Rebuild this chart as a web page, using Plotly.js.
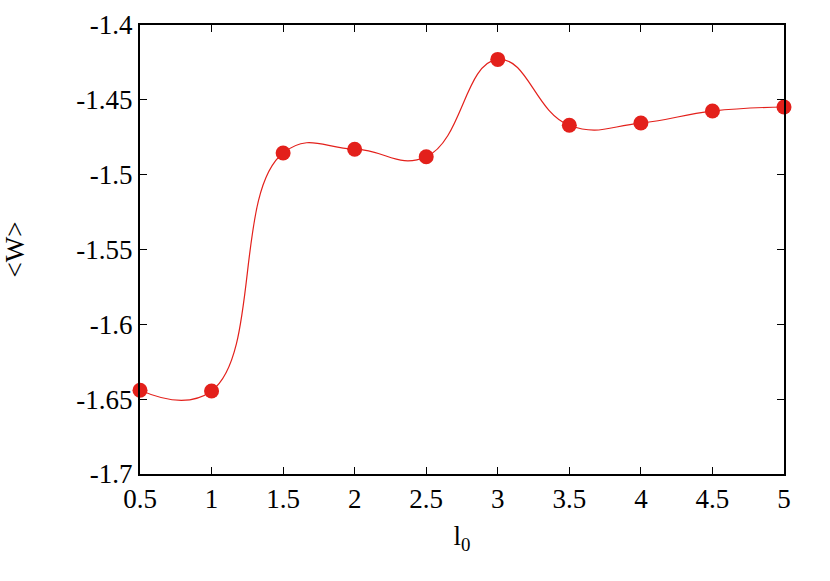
<!DOCTYPE html>
<html>
<head>
<meta charset="utf-8">
<script src="https://cdn.plot.ly/plotly-3.0.1.min.js"></script>
<style>
  html, body { margin: 0; padding: 0; background: #fff; }
  #plot { width: 830px; height: 581px; }
</style>
</head>
<body>
<div id="plot"></div>
<script>
var l0 = [0.5, 1, 1.5, 2, 2.5, 3, 3.5, 4, 4.5, 5];
var W = [-1.644, -1.6445, -1.4855, -1.483, -1.488, -1.423, -1.467, -1.4655, -1.4575, -1.4548];
var xTicks = [0.5, 1, 1.5, 2, 2.5, 3, 3.5, 4, 4.5, 5];
var xTickText = ['0.5', '1', '1.5', '2', '2.5', '3', '3.5', '4', '4.5', '5'];
var yTicks = [-1.7, -1.65, -1.6, -1.55, -1.5, -1.45, -1.4];
var yTickText = ['-1.7', '-1.65', '-1.6', '-1.55', '-1.5', '-1.45', '-1.4'];

var red = '#e3201b';
var txt = { family: 'Liberation Serif', size: 27, color: '#000' };

var curve = {
  x: l0,
  y: W,
  mode: 'lines',
  line: { color: red, width: 1.2, shape: 'spline', smoothing: 1.3 },
  hoverinfo: 'skip',
  showlegend: false
};

var dots = {
  x: l0,
  y: W,
  mode: 'markers',
  marker: { color: red, size: 15 },
  cliponaxis: false,
  showlegend: false
};

var layout = {
  width: 830,
  height: 581,
  margin: { l: 140, r: 46, t: 25, b: 107 },
  paper_bgcolor: '#fff',
  plot_bgcolor: '#fff',
  font: txt,
  xaxis: {
    range: [0.5, 5],
    tickvals: xTicks,
    ticktext: xTickText,
    tickfont: txt,
    ticks: 'inside',
    ticklen: 7,
    tickwidth: 1,
    tickcolor: '#000',
    showline: true,
    linecolor: '#000',
    linewidth: 2,
    mirror: 'ticks',
    showgrid: false,
    zeroline: false,
    title: { text: 'l<sub>0</sub>', standoff: 13, font: txt }
  },
  yaxis: {
    range: [-1.7, -1.4],
    tickvals: yTicks,
    ticktext: yTickText,
    tickfont: txt,
    ticks: 'inside',
    ticklen: 7,
    tickwidth: 1,
    tickcolor: '#000',
    showline: true,
    linecolor: '#000',
    linewidth: 2,
    mirror: 'ticks',
    showgrid: false,
    zeroline: false,
    title: { text: '&lt;W&gt;', standoff: 44, font: txt }
  }
};

Plotly.newPlot('plot', [curve, dots], layout, { displayModeBar: false, staticPlot: true });
</script>
</body>
</html>
